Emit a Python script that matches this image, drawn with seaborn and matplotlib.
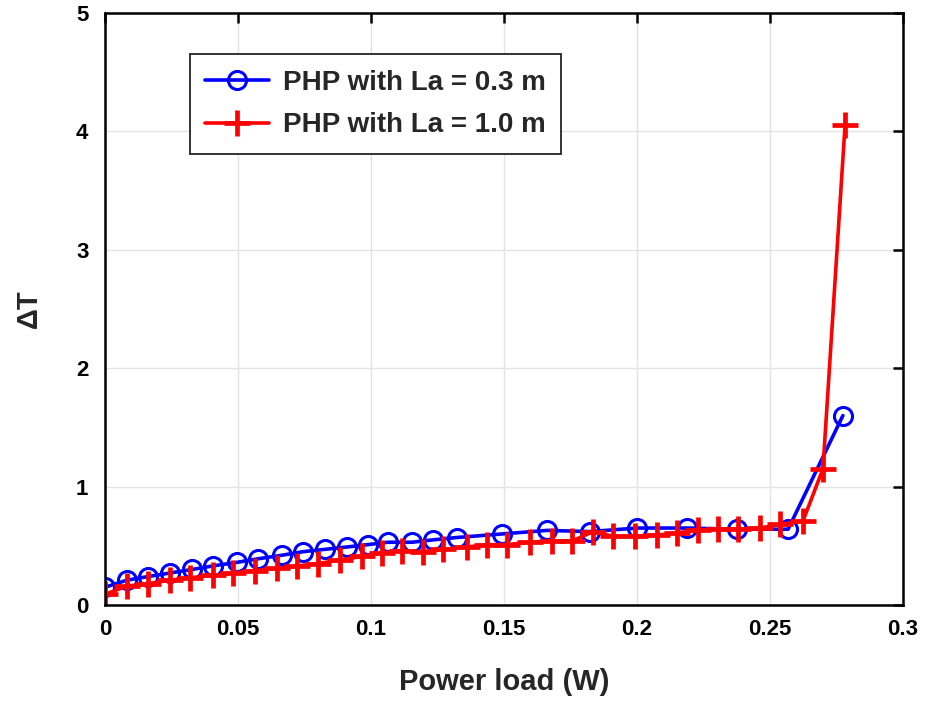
import numpy as np
import pandas as pd
import seaborn as sns
import matplotlib
matplotlib.use("Agg")
import matplotlib.pyplot as plt
from matplotlib.ticker import FormatStrFormatter

# 数据
x_short = [0, 0.0083, 0.0162, 0.0244, 0.0327, 0.0406, 0.0496, 0.0575, 0.0665,
           0.0744, 0.0827, 0.0910, 0.0989, 0.1064, 0.1154, 0.1233, 0.1323,
           0.1492, 0.1662, 0.1823, 0.2000, 0.2188, 0.2376, 0.2568, 0.2774]
dt_short = [0.15, 0.21, 0.24, 0.27, 0.30, 0.33, 0.36, 0.39, 0.42,
            0.45, 0.47, 0.49, 0.51, 0.53, 0.53, 0.55, 0.57,
            0.60, 0.63, 0.62, 0.65, 0.65, 0.64, 0.64, 1.60]

x_long = [0, 0.0083, 0.0162, 0.0244, 0.0320, 0.0406, 0.0481, 0.0564, 0.0647,
          0.0722, 0.0801, 0.0883, 0.0966, 0.1041, 0.1117, 0.1195, 0.1270,
          0.1361, 0.1436, 0.1511, 0.1598, 0.1680, 0.1756, 0.1835, 0.1910,
          0.1992, 0.2075, 0.2150, 0.2229, 0.2305, 0.2380, 0.2462, 0.2538,
          0.2624, 0.2699, 0.2782]
dt_long = [0.09, 0.16, 0.18, 0.21, 0.23, 0.25, 0.27, 0.29, 0.31,
           0.33, 0.35, 0.38, 0.41, 0.44, 0.46, 0.45, 0.47,
           0.49, 0.51, 0.51, 0.53, 0.54, 0.54, 0.62, 0.58,
           0.58, 0.59, 0.61, 0.63, 0.64, 0.64, 0.65, 0.68,
           0.71, 1.15, 4.05]

LABELS = ['PHP with La = 0.3 m', 'PHP with La = 1.0 m']
X_TICKS = [0, 0.05, 0.1, 0.15, 0.2, 0.25, 0.3]
Y_TICKS = [0, 1, 2, 3, 4, 5]


def main():
    sns.set_style("white")
    plt.rcParams['font.family'] = ['Liberation Sans', 'DejaVu Sans']
    plt.rcParams['font.weight'] = 'bold'

    fig = plt.figure(figsize=(9.35, 7.1), dpi=100)
    ax = fig.add_axes([0.1123, 0.1479, 0.8535, 0.8338])

    sns.lineplot(x=x_short, y=dt_short, ax=ax, color='#0000ff', lw=2.6,
                 marker='o', markersize=13, markerfacecolor='none',
                 markeredgecolor='#0000ff', markeredgewidth=2.2, label=LABELS[0])
    sns.lineplot(x=x_long, y=dt_long, ax=ax, color='#ff0000', lw=2.6,
                 marker='+', markersize=19, markeredgecolor='#ff0000',
                 markeredgewidth=3.4, label=LABELS[1])

    ax.set_xlim(0, 0.3)
    ax.set_ylim(0, 5)
    ax.set_xticks(X_TICKS)
    ax.set_yticks(Y_TICKS)
    ax.xaxis.set_major_formatter(FormatStrFormatter('%g'))
    ax.grid(True, color='#e3e3e3', lw=1)
    for s in ax.spines.values():
        s.set_visible(True)
        s.set_color('black')
        s.set_linewidth(1.8)
    ax.tick_params(direction='in', length=7, width=1.8, labelsize=16,
                   colors='black', top=True, right=True)
    ax.tick_params(axis='x', pad=10)
    ax.tick_params(axis='y', pad=12)

    ax.set_xlabel('Power load (W)', fontsize=21, fontweight='bold', labelpad=20)
    ax.set_ylabel('ΔT', fontsize=21, fontweight='bold', labelpad=24)

    leg = ax.legend(loc='upper left', bbox_to_anchor=(0.106, 0.93),
                    borderaxespad=0, fancybox=False, framealpha=1,
                    edgecolor='#333333', prop={'size': 20, 'weight': 'bold'},
                    handlelength=2.3, labelspacing=0.6, borderpad=0.55,
                    handletextpad=0.5)
    leg.get_frame().set_linewidth(1.4)

    fig.savefig('out.png', dpi=100)


if __name__ == "__main__":
    main()
